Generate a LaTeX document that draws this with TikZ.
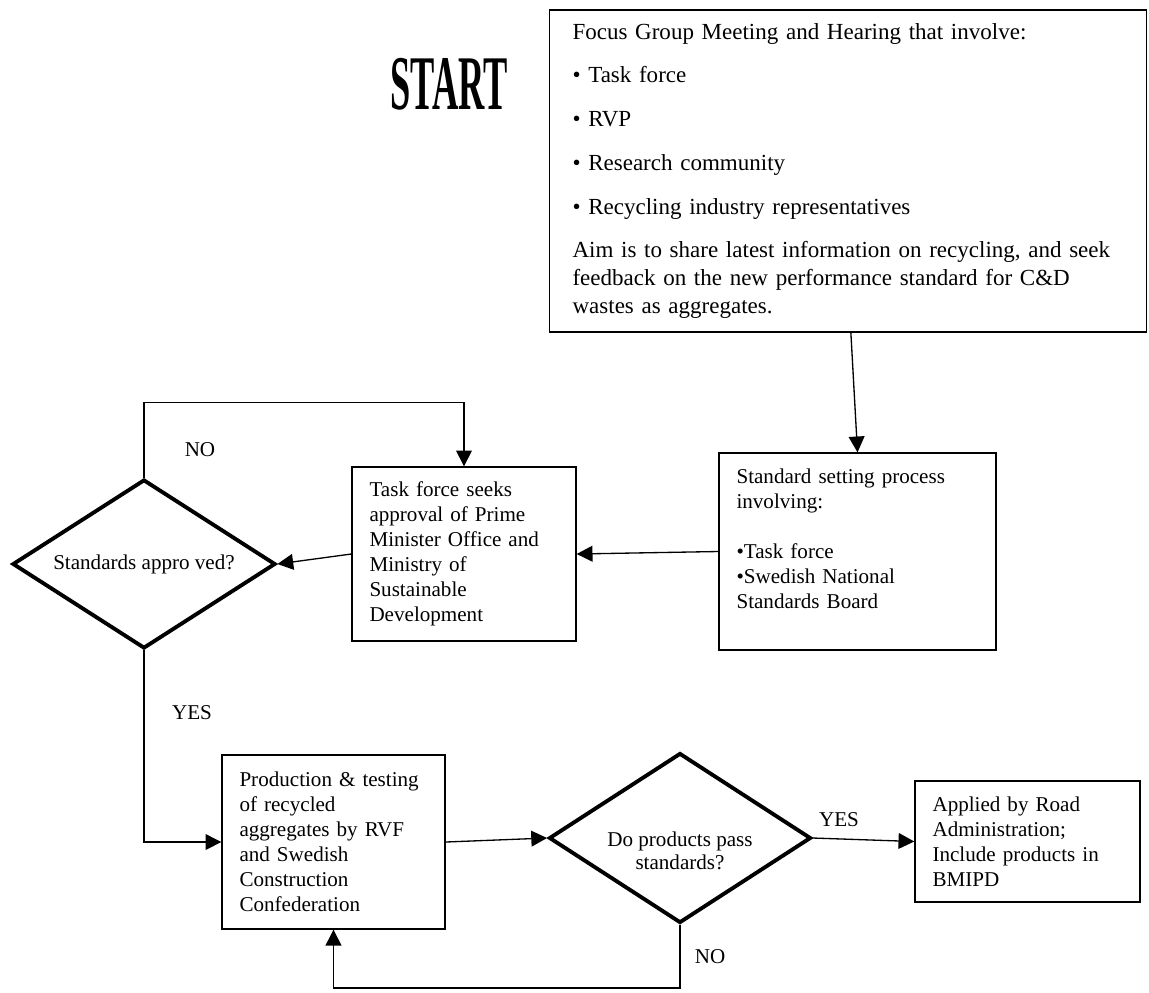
\documentclass[tikz,border=0pt]{standalone}
\usepackage{fontspec}
\usepackage{graphicx}
\setmainfont{Liberation Serif}
\usetikzlibrary{arrows.meta,shapes.geometric,calc}
\begin{document}
\begin{tikzpicture}[x=0.02cm,y=-0.02cm,
  box/.style={draw,line width=0.8pt,rectangle,align=left,inner ysep=0pt,
    inner xsep=0.35cm,font=\fontsize{12}{14.2}\selectfont},
  decision/.style={draw,line width=2.2pt,diamond,aspect=1.55,inner sep=0pt,
    align=center,font=\fontsize{12}{14.2}\selectfont},
  flow/.style={line width=0.75pt,-{Triangle[length=9pt,width=9pt]}},
  tag/.style={font=\fontsize{12}{14}\selectfont}]
\useasboundingbox[fill=white] (0,0) rectangle (1149,992);

% title
\node (start) at (449,84)
  {\fontsize{44}{44}\selectfont\bfseries\scalebox{0.47}[1]{START}};

% consultation box
\node[box,inner xsep=0.46cm,text width=11.02cm,minimum width=11.94cm,
  minimum height=6.44cm,font=\fontsize{13.1}{15.9}\selectfont]
  (top) at (848,171)
  {Focus Group Meeting and Hearing that involve:\\[9pt]
   • Task force\\[9pt]
   • RVP\\[9pt]
   • Research community\\[9pt]
   • Recycling industry representatives\\[9pt]
   Aim is to share latest information on recycling, and seek\\
   feedback on the new performance standard for C\&D\\
   wastes as aggregates.};

% process boxes
\node[box,text width=4.84cm,minimum width=5.54cm,minimum height=3.94cm]
  (std) at (857.5,551.5)
  {Standard setting process\\
   involving:\\
   \mbox{}\\
   •Task force\\
   •Swedish National\\
   Standards Board\\
   \mbox{}};

\node[box,text width=3.78cm,minimum width=4.48cm,minimum height=3.48cm]
  (task) at (464,554)
  {Task force seeks\\
   approval of Prime\\
   Minister Office and\\
   Ministry of\\
   Sustainable\\
   Development};

\node[box,text width=3.76cm,minimum width=4.46cm,minimum height=3.48cm]
  (prod) at (333.5,842)
  {Production \& testing\\
   of recycled\\
   aggregates by RVF\\
   and Swedish\\
   Construction\\
   Confederation};

\node[box,text width=3.8cm,minimum width=4.5cm,minimum height=2.42cm]
  (app) at (1027.5,841.5)
  {Applied by Road\\
   Administration;\\
   Include products in\\
   BMIPD};

% decisions
\node[decision,minimum width=5.26cm,minimum height=3.38cm]
  (d1) at (144,564) {Standards appro ved?};
\node[decision,minimum width=5.24cm,minimum height=3.4cm]
  (d2) at (680,838)
  {\raisebox{-0.4cm}[0pt][0pt]{\begin{tabular}{@{}c@{}}Do products pass\\[-1pt] standards?\end{tabular}}};

% branch labels
\node[tag] (no1) at (200,450) {NO};
\node[tag] (yes1) at (192,713) {YES};
\node[tag] (yes2) at (839,820) {YES};
\node[tag] (no2) at (710,957) {NO};

% connectors
\draw[flow] ($(top.south west)+(302,0)$) -- (std.north);
\draw[flow] (std.west) -- (task.east);
\draw[flow] (task.west) -- (d1.east);
\draw[flow] (d1.north) -- ++(0,-75) -| (task.north);
\draw[flow] (d1.south) |- (prod.west);
\draw[flow] (prod.east) -- (d2.west);
\draw[flow] (d2.east) -- (app.west);
\draw[flow] (d2.south) -- ++(0,63) -| (prod.south);
\end{tikzpicture}
\end{document}
